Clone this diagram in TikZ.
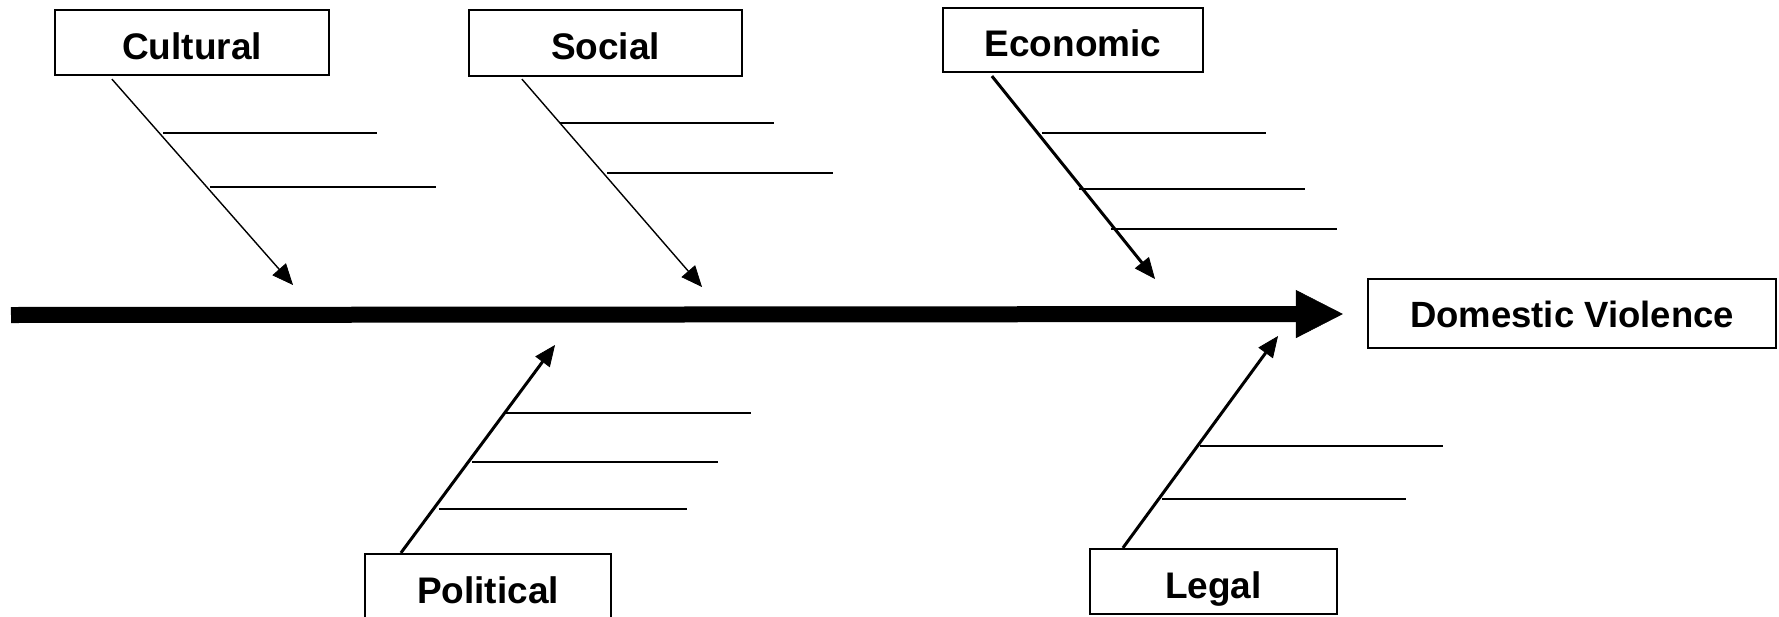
\documentclass[tikz,border=0pt]{standalone}
\usepackage{fontspec}
\setmainfont{Liberation Sans}
\usetikzlibrary{arrows.meta}
\begin{document}
\begin{tikzpicture}[x=1pt,y=-1pt,
  labelbox/.style={draw, line width=2.2pt, inner sep=0pt,
    font=\bfseries\fontsize{37}{40}\selectfont, text height=33pt, text depth=0pt},
  bone/.style={line width=#1, -{Triangle[length=21pt,width=18pt,line width=0.8pt]}},
  rib/.style={line width=2pt},
  spine/.style={line width=16pt, -{Triangle[length=47pt,width=48pt,line width=0.5pt]}}]
\useasboundingbox (0,0) rectangle (1779,616);

% category boxes
\node[labelbox, minimum width=274pt, minimum height=65pt] (cult) at (192,42.5) {Cultural};
\node[labelbox, minimum width=273pt, minimum height=66pt] (soc)  at (605.5,43) {Social};
\node[labelbox, minimum width=260pt, minimum height=64pt] (eco)  at (1073,40) {Economic};
\node[labelbox, minimum width=246pt, minimum height=65pt] (pol)  at (488,586.5) {Political};
\node[labelbox, minimum width=247pt, minimum height=65pt] (leg)  at (1213.5,581.5) {Legal};
\node[labelbox, minimum width=408pt, minimum height=69pt, text height=28pt,
      font=\bfseries\fontsize{36.5}{40}\selectfont] (dv) at (1572,313.5) {Domestic Violence};

% main spine
\coordinate (tail) at (11,315);
\draw[spine] (tail) -- ([xshift=-24pt,yshift=-0.5pt]dv.west);

% bone tips
\coordinate (cultTip) at (293,285);
\coordinate (socTip)  at (702,287);
\coordinate (ecoTip)  at (1155,279);
\coordinate (polTip)  at (555,345);
\coordinate (legTip)  at (1278,336);

% bones
\draw[bone=1.4pt] ([xshift=58pt,yshift=-3pt]cult.south west) -- (cultTip);
\draw[bone=1.4pt] ([xshift=54pt,yshift=-2pt]soc.south west) -- (socTip);
\draw[bone=3pt]   ([xshift=50pt,yshift=-3pt]eco.south west) -- (ecoTip);
\draw[bone=3pt]   ([xshift=37pt]pol.north west) -- (polTip);
\draw[bone=3pt]   ([xshift=34pt]leg.north west) -- (legTip);

% ribs
\draw[rib] (163,133) -- (377,133);
\draw[rib] (210,187) -- (436,187);

\draw[rib] (560,123) -- (774,123);
\draw[rib] (607,173) -- (833,173);

\draw[rib] (1042,133) -- (1266,133);
\draw[rib] (1079,189) -- (1305,189);
\draw[rib] (1111,229) -- (1337,229);

\draw[rib] (506,413) -- (751,413);
\draw[rib] (472,462) -- (718,462);
\draw[rib] (439,509) -- (687,509);

\draw[rib] (1200,446) -- (1443,446);
\draw[rib] (1162,499) -- (1406,499);
\end{tikzpicture}
\end{document}
